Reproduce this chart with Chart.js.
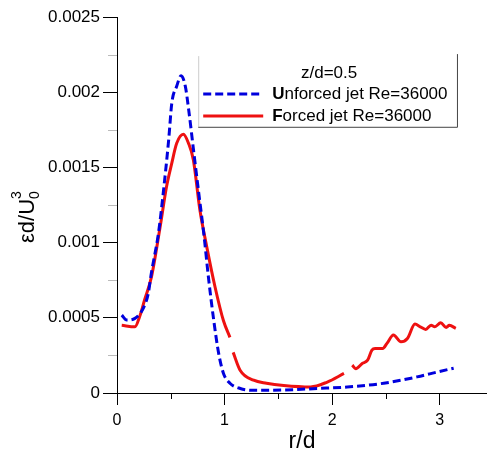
<!DOCTYPE html>
<html>
<head>
<meta charset="utf-8">
<script src="https://cdn.jsdelivr.net/npm/chart.js@4.4.1/dist/chart.umd.min.js"></script>
<style>
  html, body { margin: 0; padding: 0; background: #fff; }
  #box { width: 487px; height: 455px; }
</style>
</head>
<body>
<div id="box"><canvas id="miGrafica"></canvas></div>
<script>
// datos (z/d = 0.5)
var legendTitle = "z/d=0.5"
var seriesNames = ["Unforced jet Re=36000", "Forced jet Re=36000"]

var unforcedR = [0.044, 0.09, 0.167, 0.245, 0.29, 0.32, 0.385, 0.43, 0.48, 0.51, 0.555, 0.596, 0.635, 0.667, 0.714, 0.76, 0.81, 0.85, 0.90, 0.946, 0.99, 1.05, 1.146, 1.27, 1.55, 1.86, 2.14, 2.48, 2.79, 2.98, 3.13]
var unforcedE = [0.000518, 0.000485, 0.000496, 0.000565, 0.00066, 0.0008, 0.00106, 0.00133, 0.00168, 0.00193, 0.00204, 0.00211, 0.00204, 0.00188, 0.0016, 0.00133, 0.00104, 0.00077, 0.00048, 0.00026, 0.00013, 0.000065, 0.00003, 0.000018, 0.00002, 0.00003, 0.00004, 0.000065, 0.000107, 0.00014, 0.000165]

// null = hueco en la curva
var forcedR = [0.044, 0.167, 0.21, 0.257, 0.32, 0.40, 0.46, 0.51, 0.555, 0.617, 0.665, 0.71, 0.77, 0.835, 0.91, 0.99, 1.05, 1.065, 1.08, 1.146, 1.27, 1.39, 1.55, 1.80, 1.955, 2.11, 2.15, 2.187, 2.22, 2.28, 2.33, 2.37, 2.40, 2.47, 2.51, 2.57, 2.64, 2.70, 2.77, 2.82, 2.87, 2.92, 2.955, 3.01, 3.06, 3.09, 3.15]
var forcedE = [0.00045, 0.00044, 0.000507, 0.00062, 0.00077, 0.0011, 0.00137, 0.00153, 0.00166, 0.00172, 0.00166, 0.00155, 0.00122, 0.00097, 0.00071, 0.00048, 0.00037, null, 0.00027, 0.00015, 0.000085, 0.000065, 0.00005, 0.00004, 0.000073, 0.00013, null, 0.000185, 0.000162, 0.000196, 0.000218, 0.000285, 0.000296, 0.000296, 0.00033, 0.000385, 0.00034, 0.000362, 0.000458, 0.00044, 0.000423, 0.00045, 0.00044, 0.000467, 0.000436, 0.00045, 0.00043]

var xTicks = [0, 1, 2, 3]
var xMinor = [0.5, 1.5, 2.5]
var yTicks = [0, 0.0005, 0.001, 0.0015, 0.002, 0.0025]
var yMinor = [0.00025, 0.00075, 0.00125, 0.00175, 0.00225]

var fuente = "'Liberation Sans', Arial, sans-serif"

function pares(xs, ys) {
  var out = []
  xs.forEach(function (x, i) { out.push({ x: x, y: ys[i] }) })
  return out
}

// ticks menores, titulo del eje y y leyenda dibujados a mano
var extras = {
  id: 'extras',
  afterDraw: function (chart) {
    var ctx = chart.ctx
    var sx = chart.scales.x, sy = chart.scales.y
    var area = chart.chartArea
    ctx.save()
    ctx.strokeStyle = '#000'
    ctx.lineWidth = 1
    xMinor.forEach(function (v) {
      var px = Math.round(sx.getPixelForValue(v)) + 0.5
      ctx.beginPath(); ctx.moveTo(px, area.bottom); ctx.lineTo(px, area.bottom + 6); ctx.stroke()
    })
    ctx.strokeStyle = '#bbb'
    yMinor.forEach(function (v) {
      var py = Math.round(sy.getPixelForValue(v)) + 0.5
      ctx.beginPath(); ctx.moveTo(area.left - 9, py); ctx.lineTo(area.left, py); ctx.stroke()
    })

    // titulo eje y: εd/U0^3
    ctx.fillStyle = '#000'
    ctx.translate(34, 216)
    ctx.rotate(-Math.PI / 2)
    ctx.textBaseline = 'alphabetic'
    ctx.textAlign = 'left'
    ctx.font = "22px " + fuente
    var t1 = "εd/U"
    var w1 = ctx.measureText(t1).width
    var x0 = -(w1 + 10) / 2
    ctx.fillText(t1, x0, 0)
    ctx.font = "14px " + fuente
    ctx.fillText("0", x0 + w1, 5)
    ctx.fillText("3", x0 + w1, -13)
    ctx.restore()

    // leyenda
    ctx.save()
    var lx = sx.getPixelForValue(0.755), rx = sx.getPixelForValue(3.17)
    var ty = sy.getPixelForValue(0.00224), by = sy.getPixelForValue(0.00177)
    ctx.fillStyle = '#fff'
    ctx.fillRect(lx, ty, rx - lx, by - ty)
    ctx.lineWidth = 1
    ctx.strokeStyle = '#ccc'
    ctx.beginPath(); ctx.moveTo(lx + 0.5, ty); ctx.lineTo(lx + 0.5, by); ctx.stroke()
    ctx.strokeStyle = '#444'
    ctx.beginPath(); ctx.moveTo(rx - 0.5, ty - 2); ctx.lineTo(rx - 0.5, by + 0.5); ctx.lineTo(lx, by + 0.5); ctx.stroke()

    ctx.fillStyle = '#000'
    ctx.textBaseline = 'middle'
    ctx.textAlign = 'center'
    ctx.font = "17px " + fuente
    ctx.fillText(legendTitle, (lx + rx) / 2 + 1, ty + 17)

    var filas = [
      { y: ty + 38, color: '#0000dd', dash: [8, 4], name: seriesNames[0] },
      { y: ty + 60, color: '#ee1111', dash: [], name: seriesNames[1] }
    ]
    filas.forEach(function (f) {
      ctx.strokeStyle = f.color
      ctx.lineWidth = 3
      ctx.setLineDash(f.dash)
      ctx.beginPath(); ctx.moveTo(lx + 5, f.y); ctx.lineTo(lx + 65, f.y); ctx.stroke()
      ctx.setLineDash([])
      ctx.textAlign = 'left'
      ctx.font = "bold 17px " + fuente
      var first = f.name.charAt(0)
      ctx.fillText(first, lx + 74, f.y)
      var wf = ctx.measureText(first).width
      ctx.font = "17px " + fuente
      ctx.fillText(f.name.slice(1), lx + 74 + wf, f.y)
    })
    ctx.restore()
  }
}

new Chart("miGrafica", {
  type: "line",
  data: {
    datasets: [{
      label: seriesNames[0],
      data: pares(unforcedR, unforcedE),
      borderColor: '#0000dd',
      borderWidth: 3,
      borderDash: [8, 4],
      pointRadius: 0,
      cubicInterpolationMode: 'monotone',
      fill: false
    }, {
      label: seriesNames[1],
      data: pares(forcedR, forcedE),
      borderColor: '#ee1111',
      borderWidth: 3,
      pointRadius: 0,
      cubicInterpolationMode: 'monotone',
      spanGaps: false,
      fill: false
    }]
  },
  options: {
    responsive: true,
    maintainAspectRatio: false,
    animation: false,
    layout: { padding: { top: 17, right: 0, left: 0, bottom: 0 } },
    plugins: {
      legend: { display: false },
      tooltip: { enabled: false }
    },
    scales: {
      x: {
        type: 'linear',
        min: 0,
        max: 3.44,
        afterBuildTicks: function (s) { s.ticks = xTicks.map(function (v) { return { value: v } }) },
        afterFit: function (s) { s.height = 62 },
        grid: { drawOnChartArea: false, drawTicks: true, tickLength: 12, color: '#000' },
        border: { display: true, color: '#000', width: 1 },
        ticks: {
          color: '#000', padding: 6, maxRotation: 0,
          font: { family: fuente, size: 16 },
          callback: function (v) { return String(v) }
        },
        title: {
          display: true, text: 'r/d', color: '#000',
          font: { family: fuente, size: 23 }, padding: { top: 0, bottom: 0 }
        }
      },
      y: {
        type: 'linear',
        min: 0,
        max: 0.0025,
        afterBuildTicks: function (s) { s.ticks = yTicks.map(function (v) { return { value: v } }) },
        afterFit: function (s) { s.width = 117 },
        grid: { drawOnChartArea: false, drawTicks: true, tickLength: 14, color: '#000' },
        border: { display: true, color: '#000', width: 1 },
        ticks: {
          color: '#000', padding: 3,
          font: { family: fuente, size: 17 },
          callback: function (v) { return String(v) }
        }
      }
    }
  },
  plugins: [extras]
});
</script>
</body>
</html>
